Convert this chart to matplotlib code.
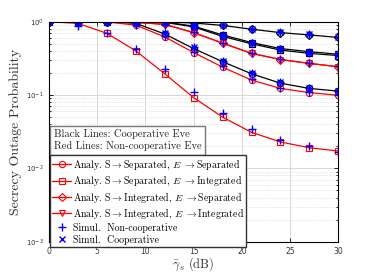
import numpy as np
import matplotlib
matplotlib.use("Agg")
import matplotlib.pyplot as plt
from matplotlib.font_manager import FontProperties
from matplotlib.ticker import LogLocator, NullFormatter

plt.rcParams['mathtext.fontset'] = 'dejavusans'
plt.rcParams['axes.unicode_minus'] = False

snr_db = [0, 3, 6, 9, 12, 15, 18, 21, 24, 27, 30]

# Non-cooperative Eve (red, analytical)
nc_sep_sep = [1.0, 1.0, 0.99, 0.90, 0.62, 0.38, 0.24, 0.16, 0.123, 0.108, 0.099]
nc_sep_int = [1.0, 0.95, 0.695, 0.40, 0.195, 0.092, 0.050, 0.031, 0.0229, 0.0191, 0.0172]
nc_int_sep = [1.0, 1.0, 1.0, 0.98, 0.92, 0.71, 0.51, 0.37, 0.305, 0.27, 0.243]
nc_int_int = [1.0, 1.0, 1.0, 0.98, 0.92, 0.71, 0.51, 0.37, 0.305, 0.27, 0.243]

# Cooperative Eve (black, analytical)
co_sep_sep = [1.0, 1.0, 1.0, 0.95, 0.68, 0.43, 0.285, 0.195, 0.145, 0.123, 0.113]
co_sep_int = [1.0, 1.0, 1.0, 1.0, 0.98, 0.85, 0.63, 0.50, 0.41, 0.37, 0.345]
co_int_sep = [1.0, 1.0, 1.0, 1.0, 0.995, 0.96, 0.89, 0.79, 0.71, 0.66, 0.61]
co_int_int = [1.0, 1.0, 1.0, 1.0, 0.99, 0.87, 0.66, 0.52, 0.43, 0.39, 0.36]

# Simulations
sim_nc_sep_sep = [1.0, 1.0, 0.99, 0.90, 0.63, 0.39, 0.245, 0.165, 0.125, 0.11, 0.10]
sim_nc_sep_int = [1.0, 0.873, 0.70, 0.42, 0.226, 0.111, 0.057, 0.034, 0.0243, 0.0201, 0.0169]
sim_nc_int_sep = [1.0, 1.0, 1.0, 0.97, 0.90, 0.72, 0.52, 0.38, 0.31, 0.275, 0.245]
sim_co_sep_sep = [1.0, 1.0, 1.0, 0.95, 0.70, 0.45, 0.295, 0.20, 0.15, 0.126, 0.115]
sim_co_sep_int = [1.0, 1.0, 1.0, 1.0, 0.98, 0.86, 0.64, 0.51, 0.42, 0.38, 0.35]
sim_co_int_sep = [1.0, 1.0, 1.0, 1.0, 1.0, 0.97, 0.90, 0.80, 0.72, 0.67, 0.62]
sim_co_int_int = [1.0, 1.0, 1.0, 1.0, 0.99, 0.87, 0.66, 0.52, 0.43, 0.39, 0.36]

labels = [r'Analy. S$\rightarrow$Separated, $E$ $\rightarrow$Separated',
          r'Analy. S$\rightarrow$Separated, $E$ $\rightarrow$Integrated',
          r'Analy. S$\rightarrow$Integrated, $E$ $\rightarrow$Separated',
          r'Analy. S$\rightarrow$Integrated, $E$ $\rightarrow$Integrated',
          'Simul.  Non-cooperative',
          'Simul.  Cooperative']
note_text = 'Black Lines: Cooperative Eve\nRed Lines: Non-cooperative Eve'

fig = plt.figure(figsize=(3.74, 2.73), dpi=100)
ax = fig.add_axes([0.131, 0.1147, 0.7736, 0.8058])

ms = 4.5
lw = 0.9
mfc = 'none'
# black cooperative curves
for vals, mk in [(co_sep_sep, 'o'), (co_sep_int, 's'), (co_int_sep, 'D'), (co_int_int, 'v')]:
    ax.plot(snr_db, vals, color='black', marker=mk, ms=ms, mfc=mfc, lw=lw, mew=0.9)
# red non-cooperative curves
h = []
for vals, mk, m in [(nc_sep_sep, 'o', ms), (nc_sep_int, 's', ms - 0.5), (nc_int_sep, 'D', ms - 0.8), (nc_int_int, 'v', ms)]:
    l, = ax.plot(snr_db, vals, color='red', marker=mk, ms=m, mfc=mfc, lw=lw, mew=0.8)
    h.append(l)
# simulations
for vals in [sim_nc_sep_sep, sim_nc_sep_int, sim_nc_int_sep]:
    hp, = ax.plot(snr_db, vals, ls='none', marker='+', color='blue', ms=6, mew=1.0)
for vals in [sim_co_sep_sep, sim_co_sep_int, sim_co_int_sep, sim_co_int_int]:
    hx, = ax.plot(snr_db, vals, ls='none', marker='x', color='blue', ms=5, mew=1.0)
    ax.plot(snr_db, vals, ls='none', marker='+', color='blue', ms=6, mew=1.0)
h += [hp, hx]

ax.set_yscale('log')
ax.set_xlim(0, 30)
ax.set_ylim(1e-3, 1)
ax.set_xticks([0, 5, 10, 15, 20, 25, 30])
ax.yaxis.set_major_locator(LogLocator(base=10, numticks=10))
ax.yaxis.set_minor_locator(LogLocator(base=10, subs=np.arange(2, 10), numticks=20))
ax.yaxis.set_minor_formatter(NullFormatter())
ax.grid(True, which='major', color='#d8d8d8', lw=0.7, ls='-')
ax.grid(True, which='minor', axis='y', color='#cfcfcf', lw=0.5, ls=':')
ax.set_axisbelow(True)
ax.tick_params(which='both', direction='in', top=True, right=True, labelsize=5.5, width=0.6)
ax.tick_params(which='major', length=3)
ax.tick_params(which='minor', length=1.5)
ax.tick_params(axis='y', labelsize=5)
for s in ax.spines.values():
    s.set_linewidth(0.8)
for t in ax.get_xticklabels() + ax.get_yticklabels():
    t.set_color('#333333')

cmfont = FontProperties(family='cmr10', size=10, math_fontfamily='cm')
ax.set_ylabel('Secrecy Outage Probability', fontproperties=cmfont, color='#333333', labelpad=3)
ax.set_xlabel(r'$\bar{\gamma}_s$ (dB)', fontproperties=FontProperties(family='cmr10', size=9, math_fontfamily='cm'),
              color='#333333', labelpad=0)

ax.text(0.017, 0.511, note_text,
        transform=ax.transAxes, va='top', ha='left', linespacing=1.25,
        fontfamily='cmr10', fontsize=7.6, color='#222222', zorder=5,
        bbox=dict(boxstyle='square,pad=0.35', fc='white', ec='#777777', lw=1.0))

leg = ax.legend(h, labels, loc='upper left', bbox_to_anchor=(0.0035, 0.393),
                prop=FontProperties(family='cmr10', size=7.1, math_fontfamily='cm'),
                frameon=True, fancybox=False, edgecolor='#333333', framealpha=1,
                handlelength=1.9, handletextpad=0.15, labelspacing=0.2, borderpad=0.25,
                borderaxespad=0.0)
leg.get_frame().set_linewidth(1.0)

fig.savefig('out.png', dpi=100)
